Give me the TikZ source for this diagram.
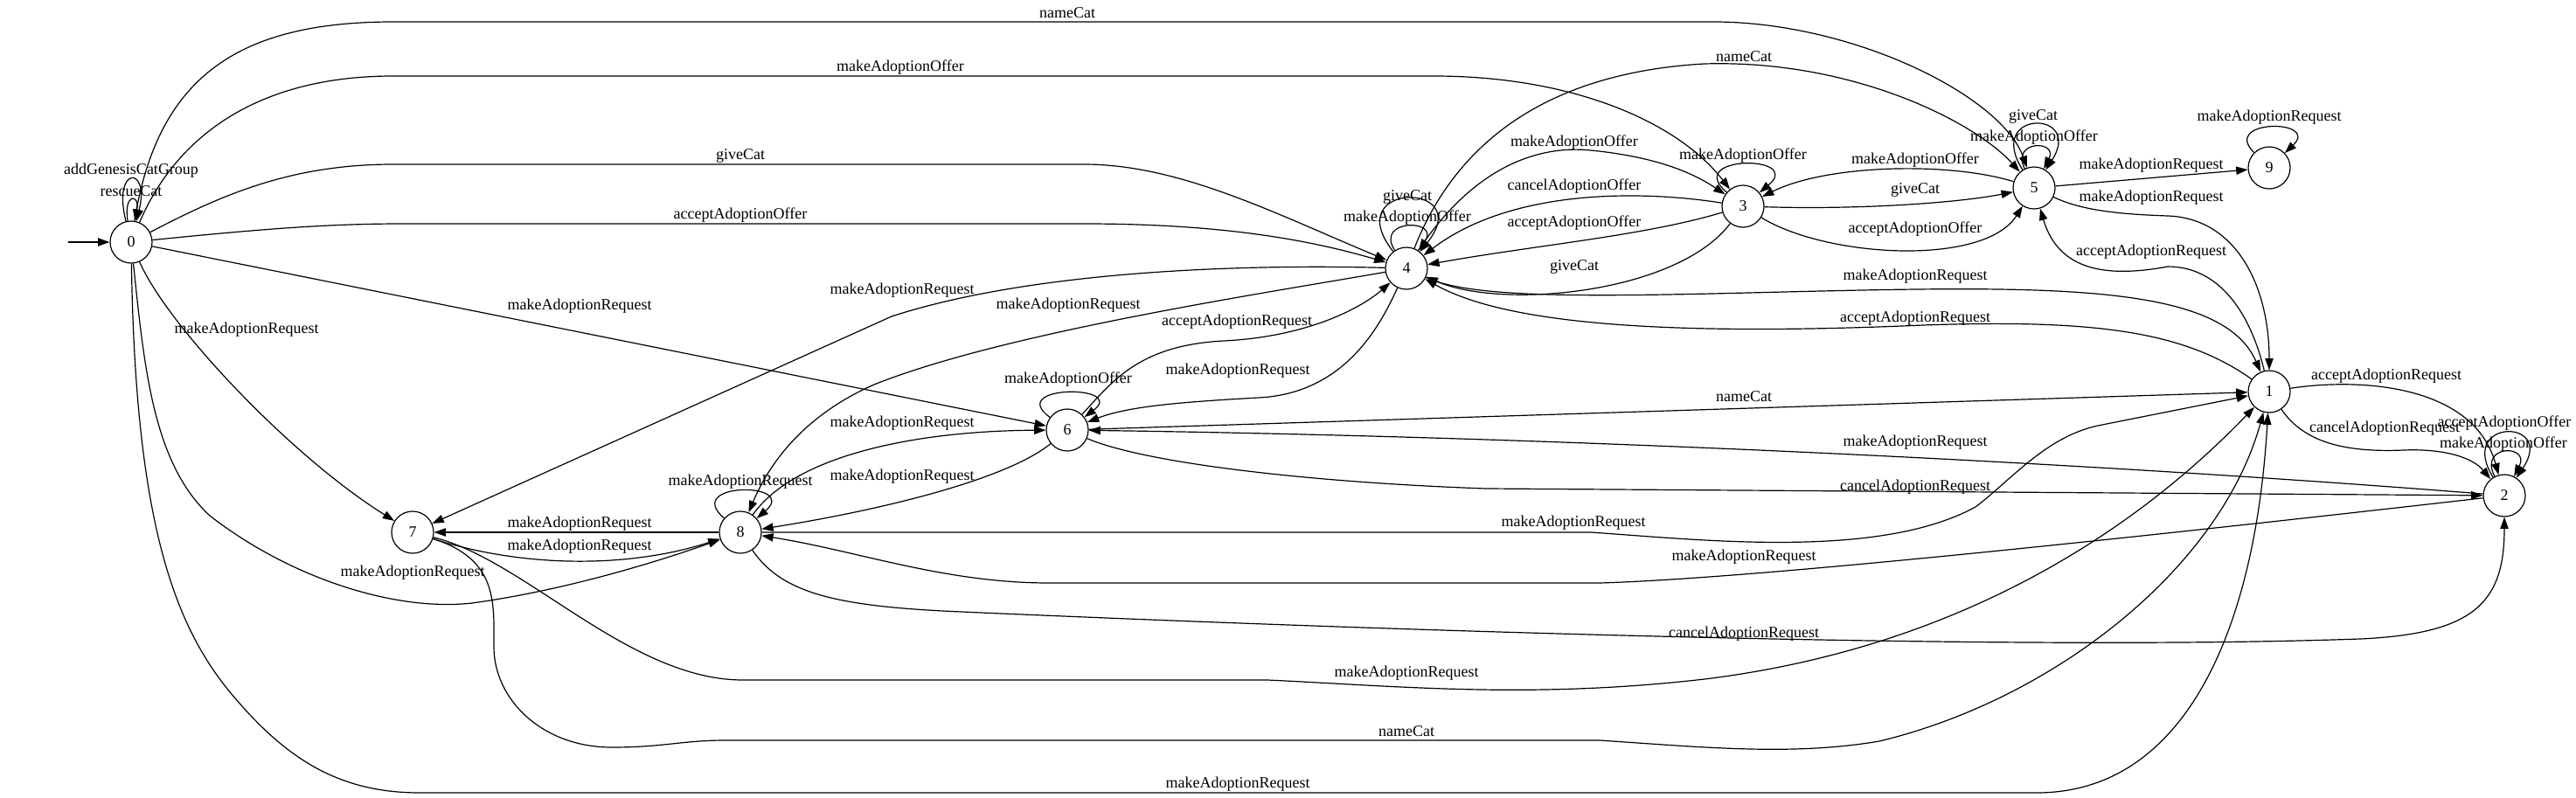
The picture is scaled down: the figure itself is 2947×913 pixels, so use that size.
\documentclass[tikz,border=0pt]{standalone}
\usepackage{fontspec}
\setmainfont{Liberation Serif}
\usetikzlibrary{arrows.meta}
\tikzset{
  state/.style = {circle, draw, line width=0.9pt, minimum size=36pt, inner sep=0pt},
  edge/.style = {->, line width=0.9pt},
  lbl/.style = {inner sep=0pt},
  >={Triangle[length=10pt,width=7pt]}
}

\begin{document}
\begin{tikzpicture}[x=0.75pt, y=-0.75pt, font=\fontsize{13.5}{16}\selectfont]
  \useasboundingbox (0,0) rectangle (2947,913);

  % states
  \node[state] (n0) at (150,277) {0};
  \node[state] (n1) at (2596,448) {1};
  \node[state] (n2) at (2865,567) {2};
  \node[state] (n3) at (1994,236) {3};
  \node[state] (n4) at (1609,307) {4};
  \node[state] (n5) at (2327,215) {5};
  \node[state] (n6) at (1221,492) {6};
  \node[state] (n7) at (472,609) {7};
  \node[state] (n8) at (847,609) {8};
  \node[state] (n9) at (2596,192) {9};
  \coordinate (init) at (78,277);

  \draw[edge] (init) -- (n0);

  % loops
  \draw[edge] (n0) .. controls (128,189) and (172,189) .. (n0);
  \draw[edge] (n0) .. controls (141,221) and (160,221) .. (n0);
  \draw[edge] (n4) .. controls (1530,207) and (1690,207) .. (n4);
  \draw[edge] (n4) .. controls (1572,250) and (1648,250) .. (n4);
  \draw[edge] (n3) .. controls (1925,177) and (2065,177) .. (n3);
  \draw[edge] (n5) .. controls (2270,125) and (2385,125) .. (n5);
  \draw[edge] (n5) .. controls (2300,160) and (2355,160) .. (n5);
  \draw[edge] (n9) .. controls (2540,136) and (2655,136) .. (n9);
  \draw[edge] (n8) .. controls (780,551) and (915,551) .. (n8);
  \draw[edge] (n6) .. controls (1150,440) and (1290,440) .. (n6);
  \draw[edge] (n2) .. controls (2810,478) and (2925,478) .. (n2);
  \draw[edge] (n2) .. controls (2835,508) and (2895,508) .. (n2);

  % from 0
  \draw[edge] (n0) .. controls (180,90) and (270,25) .. (450,25) -- (1960,25)
    .. controls (2120,25) and (2290,110) .. (n5);
  \draw[edge] (n0) .. controls (200,160) and (290,87) .. (450,87) -- (1640,87)
    .. controls (1800,87) and (1920,140) .. (n3);
  \draw[edge] (n0) .. controls (250,225) and (330,188) .. (450,188) -- (1240,188)
    .. controls (1350,188) and (1460,245) .. (n4);
  \draw[edge] (n0) .. controls (290,263) and (370,256) .. (460,256) -- (1240,256)
    .. controls (1400,256) and (1500,275) .. (n4);
  \draw[edge] (n0) -- (n6);
  \draw[edge] (n0) .. controls (190,370) and (330,520) .. (n7);
  \draw[edge] (n0) .. controls (165,420) and (175,530) .. (240,590)
    .. controls (330,660) and (450,700) .. (540,690)
    .. controls (650,675) and (760,640) .. (n8);
  \draw[edge] (n0) .. controls (155,600) and (200,720) .. (270,800)
    .. controls (330,870) and (390,907) .. (480,907) -- (2330,907)
    .. controls (2500,907) and (2580,720) .. (n1);

  % from 4 and 3
  \draw[edge] (n4) .. controls (1420,302) and (1180,310) .. (1020,362) -- (n7);
  \draw[edge] (n4) .. controls (1450,335) and (1150,380) .. (1000,440)
    .. controls (920,475) and (880,530) .. (n8);
  \draw[edge] (n6) .. controls (1270,440) and (1300,395) .. (1400,390)
    .. controls (1500,385) and (1560,350) .. (n4);
  \draw[edge] (n4) .. controls (1580,370) and (1540,450) .. (1440,455)
    .. controls (1350,460) and (1290,465) .. (n6);
  \draw[edge] (n4) .. controls (1680,200) and (1750,165) .. (1820,172)
    .. controls (1900,180) and (1940,200) .. (n3);
  \draw[edge] (n3) .. controls (1880,218) and (1730,215) .. (n4);
  \draw[edge] (n3) .. controls (1880,270) and (1760,280) .. (n4);
  \draw[edge] (n3) .. controls (1920,335) and (1720,355) .. (n4);
  \draw[edge] (n4) .. controls (1680,340) and (1800,340) .. (2000,335)
    .. controls (2330,327) and (2540,320) .. (n1);
  \draw[edge] (n1) .. controls (2500,380) and (2400,365) .. (2200,372)
    .. controls (1900,385) and (1720,370) .. (n4);
  \draw[edge] (n4) .. controls (1655,190) and (1740,85) .. (1950,73)
    .. controls (2120,68) and (2260,140) .. (n5);

  % from 5
  \draw[edge] (n5) .. controls (2230,185) and (2090,188) .. (n3);
  \draw[edge] (n3) .. controls (2130,240) and (2240,232) .. (n5);
  \draw[edge] (n3) .. controls (2090,295) and (2270,305) .. (n5);
  \draw[edge] (n5) -- (n9);
  \draw[edge] (n5) .. controls (2380,240) and (2420,245) .. (2480,247)
    .. controls (2560,250) and (2596,330) .. (n1);
  \draw[edge] (n1) .. controls (2575,360) and (2540,305) .. (2480,305)
    .. controls (2410,318) and (2355,310) .. (n5);

  % from 6, 7, 8
  \draw[edge] (n6) -- (n1);
  \draw[edge] (n2) .. controls (2400,530) and (1800,500) .. (n6);
  \draw[edge] (n6) .. controls (1310,530) and (1500,552) .. (1700,559) -- (n2);
  \draw[edge] (n8) .. controls (910,520) and (1050,493) .. (n6);
  \draw[edge] (n6) .. controls (1150,550) and (1000,585) .. (n8);
  \draw[edge] (n8) -- (n7);
  \draw[edge] (n7) .. controls (600,650) and (720,650) .. (n8);
  \draw[edge] (n8) -- (1820,609) .. controls (1950,618) and (2150,640) .. (2260,580)
    .. controls (2300,550) and (2340,500) .. (2400,487) -- (n1);
  \draw[edge] (n2) .. controls (2400,620) and (2000,662) .. (1830,667) -- (1200,667)
    .. controls (1080,667) and (980,630) .. (n8);
  \draw[edge] (n8) .. controls (895,680) and (960,694) .. (1100,700)
    .. controls (1600,722) and (2300,745) .. (2700,731)
    .. controls (2830,725) and (2865,690) .. (n2);
  \draw[edge] (n7) .. controls (600,640) and (720,778) .. (850,778) -- (1450,778)
    .. controls (1600,785) and (1750,800) .. (1950,777)
    .. controls (2250,740) and (2450,600) .. (n1);
  \draw[edge] (n7) .. controls (570,640) and (565,690) .. (565,740)
    .. controls (565,800) and (620,855) .. (700,855)
    .. controls (760,855) and (780,847) .. (830,847) -- (1830,847)
    .. controls (1950,855) and (2050,865) .. (2150,848)
    .. controls (2350,800) and (2540,650) .. (n1);

  % from 1
  \draw[edge] (n1) .. controls (2700,432) and (2830,440) .. (n2);
  \draw[edge] (n1) .. controls (2635,505) and (2680,518) .. (2750,515)
    .. controls (2800,513) and (2830,525) .. (n2);

  % labels
  \node[lbl] (l00a) at (150,195) {addGenesisCatGroup};
  \node[lbl] (l00b) at (150,219) {rescueCat};
  \node[lbl] (l05) at (1221,15) {nameCat};
  \node[lbl] (l03) at (1030,77) {makeAdoptionOffer};
  \node[lbl] (l04a) at (847,178) {giveCat};
  \node[lbl] (l04b) at (847,246) {acceptAdoptionOffer};
  \node[lbl] (l06) at (663,350) {makeAdoptionRequest};
  \node[lbl] (l07) at (282,377) {makeAdoptionRequest};
  \node[lbl] (l08) at (472,655) {makeAdoptionRequest};
  \node[lbl] (l01) at (1416,897) {makeAdoptionRequest};
  \node[lbl] (l45) at (1995,65) {nameCat};
  \node[lbl] (l43) at (1801,163) {makeAdoptionOffer};
  \node[lbl] (l33) at (1994,178) {makeAdoptionOffer};
  \node[lbl] (l44a) at (1610,225) {giveCat};
  \node[lbl] (l44b) at (1610,249) {makeAdoptionOffer};
  \node[lbl] (l34a) at (1801,213) {cancelAdoptionOffer};
  \node[lbl] (l34b) at (1801,255) {acceptAdoptionOffer};
  \node[lbl] (l34c) at (1801,305) {giveCat};
  \node[lbl] (l47) at (1032,332) {makeAdoptionRequest};
  \node[lbl] (l48) at (1222,349) {makeAdoptionRequest};
  \node[lbl] (l64) at (1415,368) {acceptAdoptionRequest};
  \node[lbl] (l46) at (1416,424) {makeAdoptionRequest};
  \node[lbl] (l41) at (2191,316) {makeAdoptionRequest};
  \node[lbl] (l14) at (2191,364) {acceptAdoptionRequest};
  \node[lbl] (l53) at (2191,183) {makeAdoptionOffer};
  \node[lbl] (l35a) at (2191,217) {giveCat};
  \node[lbl] (l35b) at (2191,262) {acceptAdoptionOffer};
  \node[lbl] (l55a) at (2326,133) {giveCat};
  \node[lbl] (l55b) at (2327,157) {makeAdoptionOffer};
  \node[lbl] (l99) at (2596,134) {makeAdoptionRequest};
  \node[lbl] (l59) at (2461,189) {makeAdoptionRequest};
  \node[lbl] (l51) at (2461,226) {makeAdoptionRequest};
  \node[lbl] (l15) at (2461,288) {acceptAdoptionRequest};
  \node[lbl] (l66) at (1222,434) {makeAdoptionOffer};
  \node[lbl] (l61) at (1995,454) {nameCat};
  \node[lbl] (l26) at (2191,506) {makeAdoptionRequest};
  \node[lbl] (l62) at (2191,557) {cancelAdoptionRequest};
  \node[lbl] (l86) at (1032,484) {makeAdoptionRequest};
  \node[lbl] (l68) at (1032,545) {makeAdoptionRequest};
  \node[lbl] (l88) at (847,551) {makeAdoptionRequest};
  \node[lbl] (l87) at (663,599) {makeAdoptionRequest};
  \node[lbl] (l78) at (663,625) {makeAdoptionRequest};
  \node[lbl] (l81) at (1800,598) {makeAdoptionRequest};
  \node[lbl] (l28) at (1995,637) {makeAdoptionRequest};
  \node[lbl] (l82) at (1995,725) {cancelAdoptionRequest};
  \node[lbl] (l71a) at (1609,770) {makeAdoptionRequest};
  \node[lbl] (l71b) at (1609,837) {nameCat};
  \node[lbl] (l12a) at (2730,430) {acceptAdoptionRequest};
  \node[lbl] (l12b) at (2728,490) {cancelAdoptionRequest};
  \node[lbl] (l22a) at (2865,484) {acceptAdoptionOffer};
  \node[lbl] (l22b) at (2864,508) {makeAdoptionOffer};
\end{tikzpicture}
\end{document}
